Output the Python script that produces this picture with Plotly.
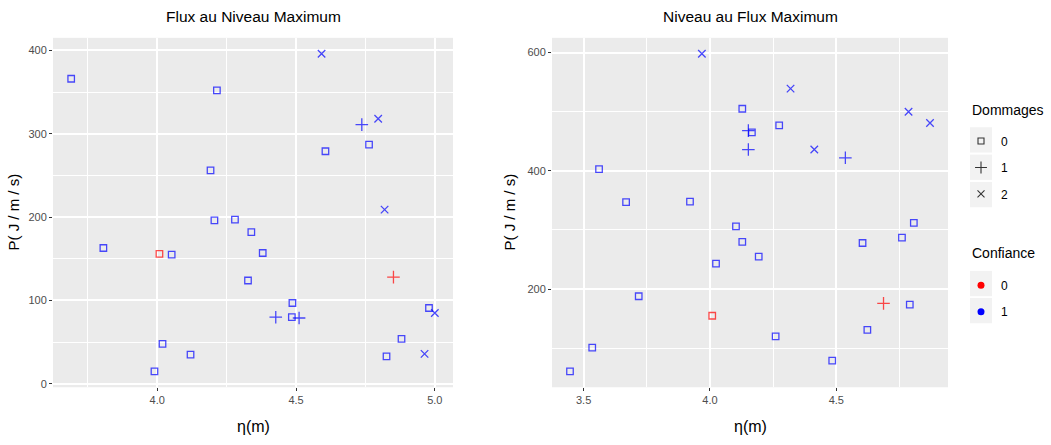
import plotly.graph_objects as go

# Panel 1: flux au niveau maximum
flux_eta = [3.690, 4.215, 4.592, 4.737, 4.796, 4.763, 4.606, 4.192, 4.819, 4.206,
            4.280, 4.339, 4.380, 3.806, 4.008, 4.052, 4.327, 4.851, 4.487, 4.427,
            4.485, 4.511, 4.979, 5.000, 4.880, 4.963, 4.826, 4.019, 4.120, 3.990]
flux_P = [366, 352, 396, 311, 318, 287, 279, 256, 209, 196,
          197, 182, 157, 163, 156, 155, 124, 128, 97, 80,
          80, 79, 91, 85, 54, 36, 33, 48, 35, 15]
flux_dommages = [0, 0, 2, 1, 2, 0, 0, 0, 2, 0,
                 0, 0, 0, 0, 0, 0, 0, 1, 0, 1,
                 0, 1, 0, 2, 0, 2, 0, 0, 0, 0]
flux_confiance = [1, 1, 1, 1, 1, 1, 1, 1, 1, 1,
                  1, 1, 1, 1, 0, 1, 1, 0, 1, 1,
                  1, 1, 1, 1, 1, 1, 1, 1, 1, 1]

# Panel 2: niveau au flux maximum
niv_eta = [3.968, 4.319, 4.128, 4.274, 4.152, 4.166, 4.786, 4.871, 4.152, 4.413,
           4.536, 3.561, 3.668, 3.921, 4.103, 4.128, 4.193, 4.024, 4.604, 4.760,
           4.807, 3.718, 4.009, 4.687, 4.791, 4.623, 4.260, 4.484, 3.534, 3.446]
niv_P = [598, 539, 505, 477, 468, 465, 500, 481, 436, 436,
         422, 403, 347, 348, 306, 280, 255, 243, 278, 287,
         312, 188, 155, 176, 174, 131, 120, 79, 101, 61]
niv_dommages = [2, 2, 0, 0, 1, 0, 2, 2, 1, 2,
                1, 0, 0, 0, 0, 0, 0, 0, 0, 0,
                0, 0, 0, 1, 0, 0, 0, 0, 0, 0]
niv_confiance = [1, 1, 1, 1, 1, 1, 1, 1, 1, 1,
                 1, 1, 1, 1, 1, 1, 1, 1, 1, 1,
                 1, 1, 0, 0, 1, 1, 1, 1, 1, 1]

panel_titles = ["Flux au Niveau Maximum", "Niveau au Flux Maximum"]
legend_titles = ["Dommages", "Confiance"]
dommages_levels = [0, 1, 2]
confiance_levels = [0, 1]

SYMBOLS = {0: "square-open", 1: "cross-thin-open", 2: "x-thin-open"}
SIZES = {0: 6.5, 1: 9, 2: 7.5}
COLORS = {0: "#FF0000", 1: "#0000FF"}

W, H = 1051, 445
SANS = "Liberation Sans, Arial, Helvetica, sans-serif"


def px_x(p):
    return p / W


def px_y(p):
    return 1 - p / H


def padded(vals, frac=0.05):
    lo, hi = min(vals), max(vals)
    d = (hi - lo) * frac
    return [lo - d, hi + d]


fig = go.Figure()

panels = [
    (flux_eta, flux_P, flux_dommages, flux_confiance, "x", "y"),
    (niv_eta, niv_P, niv_dommages, niv_confiance, "x2", "y2"),
]
for eta, P, dom, conf, xa, ya in panels:
    fig.add_trace(go.Scatter(
        x=eta, y=P, mode="markers", xaxis=xa, yaxis=ya, showlegend=False,
        marker=dict(
            symbol=[SYMBOLS[d] for d in dom],
            size=[SIZES[d] for d in dom],
            color=[COLORS[c] for c in conf],
            line=dict(width=1.3, color=[COLORS[c] for c in conf]),
        ),
        hoverinfo="x+y",
    ))

# Legend entries: Dommages (shape) and Confiance (colour)
for d in dommages_levels:
    fig.add_trace(go.Scatter(
        x=[None], y=[None], mode="markers", name=str(d),
        legend="legend", legendgroup=f"d{d}",
        marker=dict(symbol=SYMBOLS[d], size=SIZES[d] - 0.5, color="#333333",
                    line=dict(width=1.1, color="#333333")),
    ))
for c in confiance_levels:
    fig.add_trace(go.Scatter(
        x=[None], y=[None], mode="markers", name=str(c),
        legend="legend2", legendgroup=f"c{c}",
        marker=dict(symbol="circle", size=7, color=COLORS[c]),
    ))

axis_common = dict(
    showgrid=True, gridcolor="white", gridwidth=1.6, zeroline=False,
    ticks="outside", ticklen=3, tickwidth=1, tickcolor="#333333",
    tickfont=dict(family=SANS, size=11, color="#4d4d4d"),
    showline=False,
)
minor_grid = dict(showgrid=True, gridcolor="white", gridwidth=0.7)

x1_dom = [px_x(53), px_x(453)]
x2_dom = [px_x(552), px_x(948)]
y_dom = [px_y(389), px_y(38)]

legend_common = dict(
    font=dict(family=SANS, size=12, color="black"),
    xanchor="left", yanchor="top", x=px_x(961),
    tracegroupgap=7.5, bgcolor="rgba(0,0,0,0)",
)

fig.update_layout(
    width=W, height=H,
    margin=dict(l=0, r=0, t=0, b=0),
    paper_bgcolor="white", plot_bgcolor="#EBEBEB",
    xaxis=dict(domain=x1_dom, anchor="y", range=padded(flux_eta),
               tickvals=[4.0, 4.5, 5.0], ticktext=["4.0", "4.5", "5.0"],
               minor=dict(minor_grid, tickvals=[3.75, 4.25, 4.75]), **axis_common),
    yaxis=dict(domain=y_dom, anchor="x", range=padded(flux_P),
               tickvals=[0, 100, 200, 300, 400],
               minor=dict(minor_grid, tickvals=[50, 150, 250, 350]), **axis_common),
    xaxis2=dict(domain=x2_dom, anchor="y2", range=padded(niv_eta),
                tickvals=[3.5, 4.0, 4.5], ticktext=["3.5", "4.0", "4.5"],
                minor=dict(minor_grid, tickvals=[3.75, 4.25, 4.75]), **axis_common),
    yaxis2=dict(domain=y_dom, anchor="x2", range=padded(niv_P),
                tickvals=[200, 400, 600],
                minor=dict(minor_grid, tickvals=[100, 300, 500]), **axis_common),
    legend=dict(y=px_y(127), **legend_common),
    legend2=dict(y=px_y(272), **legend_common),
)

# Legend titles
for text, yc in zip(legend_titles, [110, 254]):
    fig.add_annotation(text=text, xref="paper", yref="paper",
                       x=px_x(970), y=px_y(yc), xanchor="left", yanchor="middle",
                       showarrow=False, font=dict(family=SANS, size=14, color="black"))

# Grey key backgrounds behind legend symbols
key_centers = [140.5, 168, 195.5, 284.8, 312]
for yc in key_centers:
    fig.add_shape(type="rect", xref="paper", yref="paper", layer="below",
                  x0=px_x(970), x1=px_x(992), y0=px_y(yc + 12.7), y1=px_y(yc - 12.7),
                  fillcolor="#F2F2F2", line=dict(width=0))

# Panel titles
for title, dom in zip(panel_titles, [x1_dom, x2_dom]):
    fig.add_annotation(text=title, xref="paper", yref="paper",
                       x=(dom[0] + dom[1]) / 2, y=px_y(17), xanchor="center", yanchor="middle",
                       showarrow=False, font=dict(family=SANS, size=15.5, color="black"))

# Axis titles
for dom, ytx in [(x1_dom, 14), (x2_dom, 510)]:
    fig.add_annotation(text="\u03b7(m)", xref="paper", yref="paper",
                       x=(dom[0] + dom[1]) / 2, y=px_y(428), xanchor="center", yanchor="middle",
                       showarrow=False, font=dict(family=SANS, size=16, color="black"))
    fig.add_annotation(text="P( J / m / s)", xref="paper", yref="paper", textangle=-90,
                       x=px_x(ytx), y=(y_dom[0] + y_dom[1]) / 2, xanchor="center", yanchor="middle",
                       showarrow=False, font=dict(family=SANS, size=15, color="black"))

fig.write_html("out.html")
